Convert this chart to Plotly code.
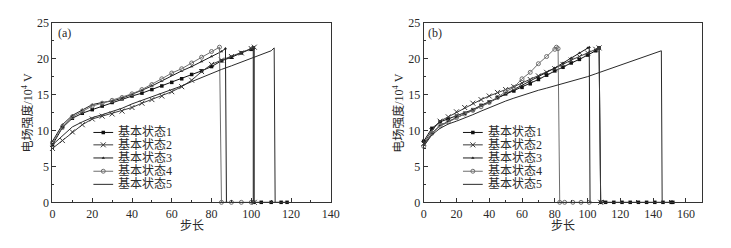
import plotly.graph_objects as go

series_names = ["基本状态1", "基本状态2", "基本状态3", "基本状态4", "基本状态5"]
x_title = "步长"
y_title = "电场强度/10<sup>4</sup> V"
panel_labels = ["(a)", "(b)"]

# ---- panel (a) ----
a1_x = [0, 5, 10, 15, 20, 25, 30, 35, 40, 45, 50, 55, 60, 65, 70, 75, 80, 85, 90, 95, 100, 101, 101, 105, 110, 115, 118]
a1_y = [8.0, 10.4, 11.7, 12.4, 12.9, 13.4, 13.9, 14.4, 14.8, 15.2, 15.7, 16.2, 16.7, 17.2, 17.8, 18.3, 18.9, 19.7, 20.2, 20.8, 21.3, 21.5, 0, 0, 0, 0, 0]
a2_x = [0, 5, 10, 15, 20, 25, 30, 35, 40, 45, 50, 55, 60, 65, 70, 75, 80, 85, 90, 95, 100, 101.5, 101.5]
a2_y = [7.5, 8.6, 9.8, 10.8, 11.6, 12.0, 12.3, 12.7, 13.2, 13.8, 14.3, 14.8, 15.4, 16.1, 17.0, 18.2, 19.2, 19.8, 20.3, 20.8, 21.4, 21.6, 0]
a3_x = [0, 5, 10, 15, 20, 25, 30, 35, 40, 45, 50, 55, 60, 65, 70, 75, 80, 85, 87, 87.5]
a3_y = [8.5, 10.8, 12.1, 12.9, 13.6, 13.9, 14.1, 14.5, 15.0, 15.6, 16.2, 16.9, 17.7, 18.3, 18.9, 19.6, 20.3, 21.0, 21.4, 0]
a4_x = [0, 5, 10, 15, 20, 25, 30, 35, 40, 45, 50, 55, 60, 65, 70, 75, 80, 84, 85, 90, 95, 100]
a4_y = [8.3, 10.5, 11.9, 12.7, 13.4, 13.8, 14.2, 14.6, 15.1, 15.7, 16.4, 17.2, 18.0, 18.6, 19.4, 20.2, 21.0, 21.6, 0, 0, 0, 0]
a5_x = [0, 5, 10, 15, 20, 25, 30, 35, 40, 45, 50, 55, 60, 65, 70, 75, 80, 85, 90, 95, 100, 105, 110, 111.5, 112]
a5_y = [8.0, 9.3, 10.5, 11.2, 11.8, 12.2, 12.6, 13.1, 13.7, 14.2, 14.6, 15.1, 15.6, 16.2, 16.8, 17.4, 17.9, 18.5, 19.0, 19.5, 20.1, 20.6, 21.1, 21.5, 0]

# ---- panel (b) ----
b1_x = [0, 5, 10, 15, 20, 25, 30, 35, 40, 45, 50, 55, 60, 65, 70, 75, 80, 85, 90, 95, 100, 105, 107, 108, 111, 116, 121, 126, 131, 136, 141, 146, 151, 152]
b1_y = [8.5, 10.3, 11.2, 11.6, 12.0, 12.4, 12.9, 13.5, 14.0, 14.6, 15.1, 15.5, 16.0, 16.5, 17.1, 17.7, 18.3, 18.8, 19.4, 19.9, 20.5, 21.1, 21.5, 0, 0, 0, 0, 0, 0, 0, 0, 0, 0, 0]
b2_x = [0, 5, 10, 15, 20, 25, 30, 35, 40, 45, 50, 55, 60, 65, 70, 75, 80, 85, 90, 95, 100, 105, 107, 108]
b2_y = [8.2, 10.0, 11.3, 11.9, 12.6, 13.2, 13.8, 14.3, 14.8, 15.3, 15.7, 16.1, 16.6, 17.1, 17.6, 18.1, 18.6, 19.2, 19.8, 20.3, 20.8, 21.3, 21.5, 0]
b3_x = [0, 5, 10, 15, 20, 25, 30, 35, 40, 45, 50, 55, 60, 65, 70, 75, 80, 85, 90, 95, 100, 101, 101.5]
b3_y = [8.0, 9.6, 10.7, 11.3, 11.8, 12.3, 12.8, 13.4, 13.9, 14.5, 15.1, 15.6, 16.2, 16.8, 17.4, 18.0, 18.7, 19.4, 20.1, 20.8, 21.5, 21.6, 0]
b4_x = [0, 5, 10, 15, 20, 25, 30, 35, 40, 45, 50, 55, 60, 65, 70, 75, 80, 81, 82, 83, 86, 91, 96, 101]
b4_y = [7.8, 9.6, 10.6, 11.2, 11.8, 12.3, 12.8, 13.3, 13.9, 14.6, 15.4, 16.0, 17.2, 18.1, 19.3, 20.3, 21.3, 21.6, 21.4, 0, 0, 0, 0, 0]
b5_x = [0, 5, 10, 15, 20, 25, 30, 35, 40, 45, 50, 55, 60, 65, 70, 75, 80, 85, 90, 95, 100, 105, 110, 115, 120, 125, 130, 135, 140, 145, 145.5]
b5_y = [7.8, 9.4, 10.3, 10.9, 11.3, 11.7, 12.2, 12.7, 13.2, 13.6, 14.1, 14.5, 14.9, 15.3, 15.6, 15.9, 16.2, 16.5, 16.8, 17.1, 17.5, 17.9, 18.3, 18.7, 19.1, 19.5, 19.9, 20.3, 20.7, 21.1, 0]

panel_a = [(a1_x, a1_y), (a2_x, a2_y), (a3_x, a3_y), (a4_x, a4_y), (a5_x, a5_y)]
panel_b = [(b1_x, b1_y), (b2_x, b2_y), (b3_x, b3_y), (b4_x, b4_y), (b5_x, b5_y)]

# styles
colors = ["#111111", "#3a3a3a", "#1e1e1e", "#6e6e6e", "#2a2a2a"]
modes = ["lines+markers", "lines+markers", "lines+markers", "lines+markers", "lines"]
markers = [
    dict(symbol="square", size=3.5, color="#111111"),
    dict(symbol="x-thin", size=5, line=dict(width=1, color="#3a3a3a")),
    dict(symbol="triangle-up", size=3, color="#1e1e1e"),
    dict(symbol="circle-open", size=4, line=dict(width=1, color="#6e6e6e"), color="#6e6e6e"),
    dict(size=1),
]

W, H = 731, 248
FONT = "Liberation Serif, Noto Sans CJK SC, serif"
TXT = "#2a2a2a"


def px_x(p):
    return p / W


def px_y(p):
    return 1 - p / H


fig = go.Figure()

for panel, (xa, ya) in zip([panel_a, panel_b], [("x", "y"), ("x2", "y2")]):
    for i, (xs, ys) in enumerate(panel):
        fig.add_trace(go.Scatter(
            x=xs, y=ys, mode=modes[i], xaxis=xa, yaxis=ya,
            line=dict(color=colors[i], width=1),
            marker=markers[i], cliponaxis=False, showlegend=False,
            name=series_names[i]))

# custom legends (drawn on overlay axes spanning the plot area 0..1)
leg_rows = [0.389, 0.320, 0.247, 0.173, 0.100]
leg_cfg = [("x3", "y3", 0.147, 0.218, 0.228), ("x4", "y4", 0.141, 0.212, 0.222)]
annotations = []
for xa, ya, lx0, lx1, tx in leg_cfg:
    for i, ry in enumerate(leg_rows):
        fig.add_trace(go.Scatter(x=[lx0, lx1], y=[ry, ry], mode="lines", xaxis=xa, yaxis=ya,
                                 line=dict(color=colors[i], width=1), showlegend=False, hoverinfo="skip"))
        if modes[i] != "lines":
            fig.add_trace(go.Scatter(x=[(lx0 + lx1) / 2], y=[ry], mode="markers", xaxis=xa, yaxis=ya,
                                     marker=markers[i], showlegend=False, hoverinfo="skip"))
        annotations.append(dict(x=tx, y=ry, xref=xa, yref=ya, text=series_names[i], showarrow=False,
                                xanchor="left", yanchor="middle",
                                font=dict(family=FONT, size=12, color=TXT)))

ydom = [px_y(207), px_y(16.7)]
xdom_a = [px_x(50.3), px_x(333.3)]
xdom_b = [px_x(427.7), px_x(711)]

axis_common = dict(showline=True, mirror=True, linecolor="#333333", linewidth=1, showgrid=False,
                   zeroline=False, ticks="inside", ticklen=4, tickcolor="#333333",
                   tickfont=dict(family=FONT, size=12, color=TXT))

fig.update_layout(
    width=W, height=H, margin=dict(l=0, r=0, t=0, b=0),
    paper_bgcolor="white", plot_bgcolor="white",
    xaxis=dict(domain=xdom_a, range=[0, 140], tick0=0, dtick=20, anchor="y",
               minor=dict(ticks="inside", ticklen=2, dtick=10, tick0=0, tickcolor="#333333"), **axis_common),
    yaxis=dict(domain=ydom, range=[0, 25], tick0=0, dtick=5, anchor="x",
               minor=dict(ticks="inside", ticklen=2, dtick=2.5, tick0=0, tickcolor="#333333"), **axis_common),
    xaxis2=dict(domain=xdom_b, range=[0, 170], tick0=0, dtick=20, anchor="y2",
                minor=dict(ticks="inside", ticklen=2, dtick=10, tick0=0, tickcolor="#333333"), **axis_common),
    yaxis2=dict(domain=ydom, range=[0, 25], tick0=0, dtick=5, anchor="x2",
                minor=dict(ticks="inside", ticklen=2, dtick=2.5, tick0=0, tickcolor="#333333"), **axis_common),
    xaxis3=dict(overlaying="x", range=[0, 1], visible=False, anchor="y3"),
    yaxis3=dict(overlaying="y", range=[0, 1], visible=False, anchor="x3"),
    xaxis4=dict(overlaying="x2", range=[0, 1], visible=False, anchor="y4"),
    yaxis4=dict(overlaying="y2", range=[0, 1], visible=False, anchor="x4"),
)

# axis titles and panel labels
for (x0, x1), lab in zip([xdom_a, xdom_b], panel_labels):
    annotations.append(dict(x=(x0 + x1) / 2, y=px_y(232), xref="paper", yref="paper", text=x_title,
                            showarrow=False, xanchor="center", yanchor="middle",
                            font=dict(family=FONT, size=12, color=TXT)))
    annotations.append(dict(x=x0 - 25 / W, y=px_y(112), xref="paper", yref="paper", text=y_title,
                            showarrow=False, textangle=-90, xanchor="center", yanchor="middle",
                            font=dict(family=FONT, size=12, color=TXT)))
    annotations.append(dict(x=x0 + 12 / W, y=px_y(28), xref="paper", yref="paper", text=lab,
                            showarrow=False, xanchor="center", yanchor="middle",
                            font=dict(family=FONT, size=12, color=TXT)))

fig.update_layout(annotations=annotations)
fig.write_html(
    "out.html",
    config={"displayModeBar": False},
    post_script=("document.body.style.margin='0';"
                 "document.body.style.overflow='hidden';"
                 "document.documentElement.style.overflow='hidden';"),
)
